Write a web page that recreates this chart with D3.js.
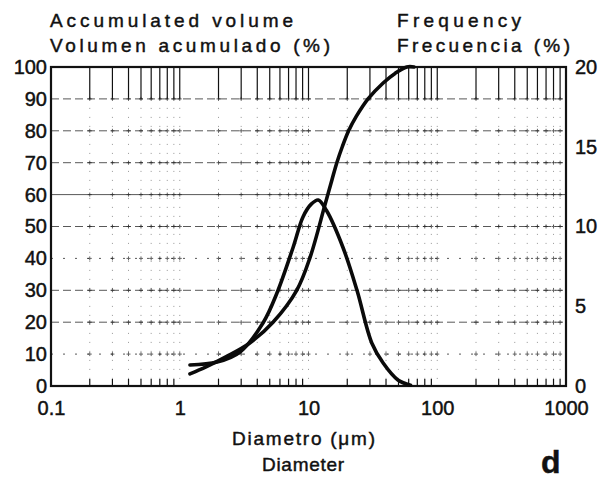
<!DOCTYPE html>
<html>
<head>
<meta charset="utf-8">
<script src="https://cdn.jsdelivr.net/npm/d3@7"></script>
<style>
  html, body { margin: 0; padding: 0; background: #fff; }
  svg { display: block; }
  text { font-family: "Liberation Sans", Arial, sans-serif; fill: #111; stroke: #111; stroke-width: 0.45px; }
</style>
</head>
<body>
<div id="chart"></div>
<script>
// ---- data ----
const cumDiameter = [1.2, 1.6, 2.3, 3.5, 5.3, 8.1, 10.3, 13.4, 15.2, 16.6, 18.3, 20.5, 23.5, 29, 38, 47, 58, 66];
const cumVolume   = [3.8, 6.0, 9.2, 13.5, 20, 30, 40.4, 56.7, 64.6, 70, 75, 80, 84.5, 90, 95, 98, 100, 100];

const freqDiameter = [1.2, 1.95, 2.94, 4.43, 5.69, 7.6, 9.06, 10.5, 11.9, 13.8, 18.5, 23.8, 31, 38, 49.5, 62];
const freqValue    = [1.32, 1.5, 2.13, 3.95, 5.83, 8.7, 10.6, 11.4, 11.66, 11.0, 8.7, 6.0, 2.7, 1.44, 0.38, 0.05];

const xTickValues = [0.1, 1, 10, 100, 1000];
const xTickLabels = ["0.1", "1", "10", "100", "1000"];
const leftTickValues = [0, 10, 20, 30, 40, 50, 60, 70, 80, 90, 100];
const rightTickValues = [0, 5, 10, 15, 20];

const titleLeft = ["Accumulated volume", "Volumen acumulado (%)"];
const titleRight = ["Frequency", "Frecuencia (%)"];
const xTitle = ["Diametro (μm)", "Diameter"];
const panelLetter = "d";

// ---- layout ----
const W = 610, H = 488;
const m = { left: 51, right: 566, top: 67, bottom: 386 };

const svg = d3.select("#chart").append("svg").attr("width", W).attr("height", H);

const x = d3.scaleLog().domain([0.1, 1000]).range([m.left, m.right]);
const yL = d3.scaleLinear().domain([0, 100]).range([m.bottom, m.top]);
const yR = d3.scaleLinear().domain([0, 20]).range([m.bottom, m.top]);

// minor log positions
const minor = [];
for (let d = 0.1; d < 1000; d *= 10) for (let k = 2; k <= 9; k++) minor.push(+(d * k).toPrecision(3));
const majorsInner = [1, 10, 100];

const grid = svg.append("g");
// horizontal grid lines
grid.selectAll("line.h").data(leftTickValues.slice(1, -1)).enter().append("line")
  .attr("x1", m.left).attr("x2", m.right)
  .attr("y1", d => yL(d)).attr("y2", d => yL(d))
  .attr("stroke", "#222").attr("stroke-width", 1)
  .attr("stroke-dasharray", d => d === 60 ? null : (d === 40 || d === 10 ? "2,10" : "8,4"))
  .attr("opacity", 0.75);
// vertical dotted grid lines
grid.selectAll("line.v").data(minor.concat(majorsInner)).enter().append("line")
  .attr("x1", d => x(d)).attr("x2", d => x(d))
  .attr("y1", yL(90)).attr("y2", m.bottom)
  .attr("stroke", "#333").attr("stroke-width", 1)
  .attr("stroke-dasharray", "1,8").attr("opacity", 0.5);
// solid log-paper verticals in the top band
grid.selectAll("line.t").data(minor.concat(majorsInner)).enter().append("line")
  .attr("x1", d => x(d)).attr("x2", d => x(d))
  .attr("y1", m.top).attr("y2", yL(90))
  .attr("stroke", "#111").attr("stroke-width", 1.2);
// small bottom ticks
grid.selectAll("line.b").data(minor).enter().append("line")
  .attr("x1", d => x(d)).attr("x2", d => x(d))
  .attr("y1", m.bottom).attr("y2", m.bottom - 7)
  .attr("stroke", "#111").attr("stroke-width", 1.2);
// crosses at intersections
const crosses = [];
leftTickValues.slice(1, -1).forEach(v => minor.concat(majorsInner).forEach(d => crosses.push([d, v])));
grid.selectAll("path.c").data(crosses).enter().append("path")
  .attr("d", d => { const cx = x(d[0]), cy = yL(d[1]); return `M${cx-2},${cy}H${cx+2}M${cx},${cy-2}V${cy+2}`; })
  .attr("stroke", "#222").attr("stroke-width", 1).attr("opacity", 0.7);

// frame
svg.append("rect").attr("x", m.left).attr("y", m.top)
  .attr("width", m.right - m.left).attr("height", m.bottom - m.top)
  .attr("fill", "none").attr("stroke", "#111").attr("stroke-width", 2.2);

// axes (labels only)
const fontSize = 20;
const axL = svg.append("g").attr("transform", `translate(${m.left - 4},0)`)
  .call(d3.axisLeft(yL).tickValues(leftTickValues).tickSize(0).tickPadding(0));
const axR = svg.append("g").attr("transform", `translate(${m.right + 9},0)`)
  .call(d3.axisRight(yR).tickValues(rightTickValues).tickSize(0).tickPadding(0));
const axB = svg.append("g").attr("transform", `translate(0,${m.bottom + 15})`)
  .call(d3.axisBottom(x).tickValues(xTickValues).tickFormat((d, i) => xTickLabels[i]).tickSize(0).tickPadding(0));
[axL, axR, axB].forEach(a => {
  a.select(".domain").remove();
  a.selectAll("text").attr("font-size", fontSize)
    .attr("font-family", "Liberation Sans, Arial, sans-serif").attr("fill", "#111");
});

// curves
const line = d3.line().curve(d3.curveCatmullRom.alpha(0.5));
svg.append("path")
  .attr("d", line(cumDiameter.map((d, i) => [x(d), yL(cumVolume[i])])))
  .attr("fill", "none").attr("stroke", "#0a0a0a").attr("stroke-width", 3.6).attr("stroke-linecap", "round");
svg.append("path")
  .attr("d", line(freqDiameter.map((d, i) => [x(d), yR(freqValue[i])])))
  .attr("fill", "none").attr("stroke", "#0a0a0a").attr("stroke-width", 3.6).attr("stroke-linecap", "round");

// titles
function txt(s, xx, yy, len, size) {
  const t = svg.append("text").attr("x", xx).attr("y", yy).attr("font-size", size).text(s);
  if (len) t.attr("textLength", len).attr("lengthAdjust", "spacing");
  return t;
}
txt(titleLeft[0], 50, 27, 243, 19);
txt(titleLeft[1], 50, 52, 280, 19);
txt(titleRight[0], 397, 27, 124, 19);
txt(titleRight[1], 397, 52, 173, 19);
txt(xTitle[0], 232, 445, 143, 19);
txt(xTitle[1], 262, 471, 82, 19);
txt(panelLetter, 541, 473, null, 32).attr("font-weight", "bold");
</script>
</body>
</html>
